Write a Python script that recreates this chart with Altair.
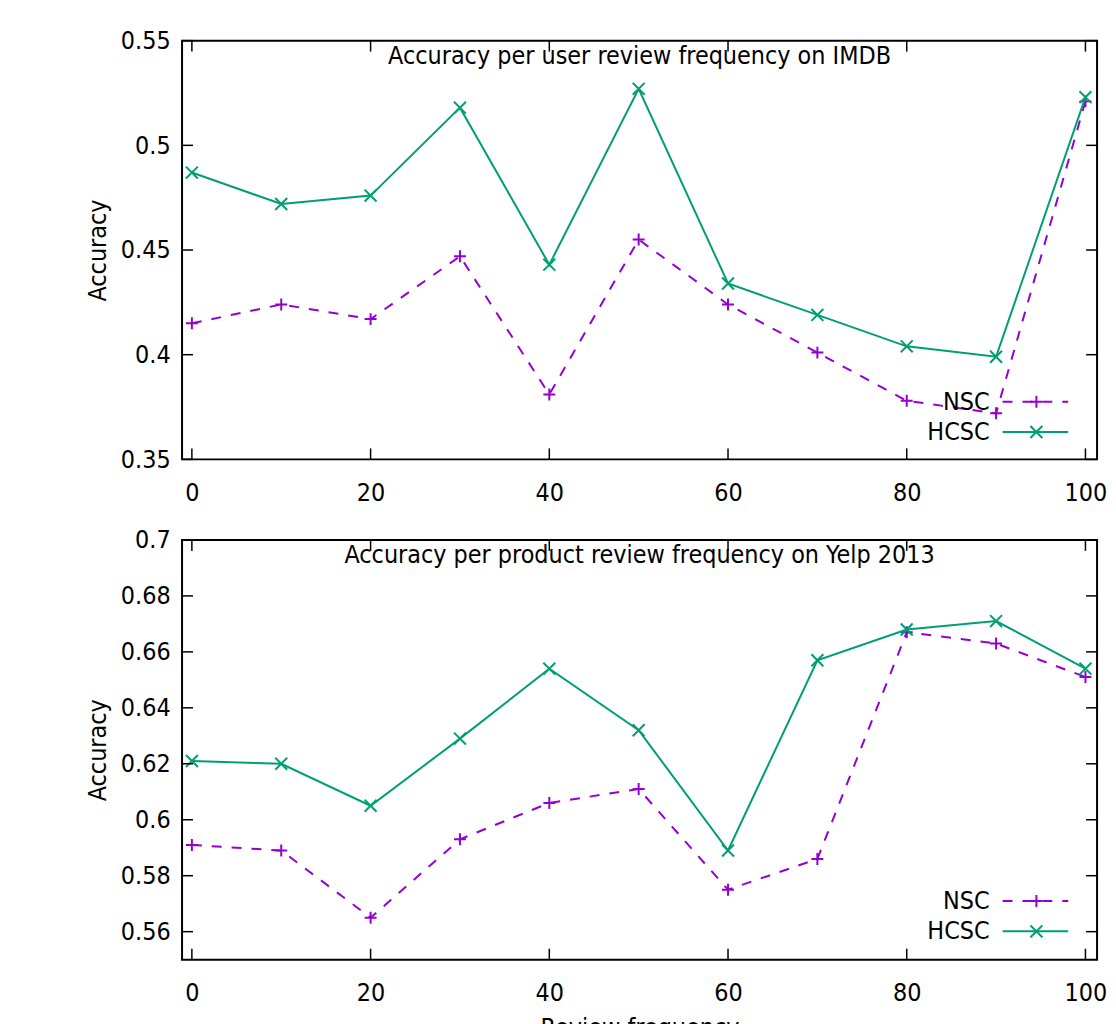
import altair as alt
import pandas as pd

# ---- data ----
review_freq = [0, 10, 20, 30, 40, 50, 60, 70, 80, 90, 100]
imdb_nsc = [0.415, 0.424, 0.417, 0.447, 0.381, 0.455, 0.424, 0.401, 0.378, 0.372, 0.521]
imdb_hcsc = [0.487, 0.472, 0.476, 0.518, 0.443, 0.527, 0.434, 0.419, 0.404, 0.399, 0.523]
yelp_nsc = [0.591, 0.589, 0.565, 0.593, 0.606, 0.611, 0.575, 0.586, 0.667, 0.663, 0.651]
yelp_hcsc = [0.621, 0.620, 0.605, 0.629, 0.654, 0.632, 0.589, 0.657, 0.668, 0.671, 0.654]
series_names = ["NSC", "HCSC"]
x_ticks = [0, 20, 40, 60, 80, 100]
imdb_y_ticks = [0.35, 0.4, 0.45, 0.5, 0.55]
yelp_y_ticks = [0.56, 0.58, 0.6, 0.62, 0.64, 0.66, 0.68, 0.7]
imdb_title = "Accuracy per user review frequency on IMDB"
yelp_title = "Accuracy per product review frequency on Yelp 2013"

W = 920
FONT = "DejaVu Sans Condensed, DejaVu Sans"
FS = 25
PURPLE = "#9400D3"
GREEN = "#009E73"
PLUS = "M-1,0L1,0M0,-1L0,1"
CROSS = "M-1,-1L1,1M-1,1L1,-1"
STYLES = {"NSC": (PURPLE, [10, 10], PLUS), "HCSC": (GREEN, None, CROSS)}
TICK = 11


def panel(title, nsc, hcsc, ydom, yticks, H, xtitle):
    xs = alt.Scale(domain=[-1.1, 101.3], nice=False, zero=False)
    ys = alt.Scale(domain=ydom, nice=False, zero=False)
    xaxis = alt.Axis(values=x_ticks, title=xtitle, labelPadding=21, titlePadding=10)
    yaxis = alt.Axis(values=yticks, format="~g", title="Accuracy",
                     labelPadding=12, titlePadding=10)
    layers = []
    for name, vals in zip(series_names, [nsc, hcsc]):
        df = pd.DataFrame({"freq": review_freq, "acc": vals})
        color, dash, shape = STYLES[name]
        xenc = alt.X("freq:Q", scale=xs, axis=xaxis)
        yenc = alt.Y("acc:Q", scale=ys, axis=yaxis)
        lkw = dict(color=color, strokeWidth=2)
        if dash:
            lkw["strokeDash"] = dash
        layers.append(alt.Chart(df).mark_line(**lkw).encode(x=xenc, y=yenc))
        layers.append(
            alt.Chart(df).mark_point(shape=shape, size=144, filled=False, color=color,
                                     strokeWidth=2, opacity=1)
            .encode(x=xenc, y=yenc)
        )

    # inward ticks on all four sides (gnuplot style)
    ydf = pd.DataFrame({"t": yticks})
    xdf = pd.DataFrame({"t": x_ticks})
    tick_kw = dict(color="black", strokeWidth=1.5)
    yt = alt.Y("t:Q", scale=ys, axis=yaxis)
    xt = alt.X("t:Q", scale=xs, axis=xaxis)
    layers.append(alt.Chart(ydf).mark_rule(**tick_kw).encode(
        y=yt, x=alt.value(0), x2=alt.value(TICK)))
    layers.append(alt.Chart(ydf).mark_rule(**tick_kw).encode(
        y=yt, x=alt.value(W - TICK), x2=alt.value(W)))
    layers.append(alt.Chart(xdf).mark_rule(**tick_kw).encode(
        x=xt, y=alt.value(H), y2=alt.value(H - TICK)))
    layers.append(alt.Chart(xdf).mark_rule(**tick_kw).encode(
        x=xt, y=alt.value(0), y2=alt.value(TICK)))

    # title inside the plot
    layers.append(alt.Chart(pd.DataFrame({"title": [title]})).mark_text(
        font=FONT, fontSize=FS, align="center", baseline="middle", color="black").encode(
        x=alt.value(W / 2), y=alt.value(15), text="title:N"))

    # gnuplot-style key at bottom right
    for i, name in enumerate(series_names):
        color, dash, shape = STYLES[name]
        ky = 363 + 30.5 * i
        ldf = pd.DataFrame({"label": [name]})
        layers.append(alt.Chart(ldf).mark_text(
            font=FONT, fontSize=FS, align="right", baseline="middle", color="black").encode(
            x=alt.value(812), y=alt.value(ky), text="label:N"))
        rkw = dict(color=color, strokeWidth=2)
        if dash:
            rkw["strokeDash"] = dash
        layers.append(alt.Chart(ldf).mark_rule(**rkw).encode(
            x=alt.value(825), x2=alt.value(891), y=alt.value(ky)))
        layers.append(alt.Chart(ldf).mark_point(
            shape=shape, size=144, filled=False, color=color, strokeWidth=2, opacity=1).encode(
            x=alt.value(859), y=alt.value(ky)))

    return alt.layer(*layers).properties(width=W, height=H)


top = panel(imdb_title, imdb_nsc, imdb_hcsc, [0.35, 0.55], imdb_y_ticks, 421, None)
bottom = panel(yelp_title, yelp_nsc, yelp_hcsc, [0.55, 0.7], yelp_y_ticks, 422, "Review frequency")

chart = alt.vconcat(top, bottom, spacing=21).properties(
    padding={"left": 76, "top": 17, "right": 0, "bottom": 5}
).configure_view(stroke="black", strokeWidth=2).configure_axis(
    labelFont=FONT, titleFont=FONT, labelFontSize=FS, titleFontSize=FS,
    titleFontWeight="normal", labelColor="black", titleColor="black",
    ticks=False, domain=False, grid=False
)

chart.save("out.html", embed_options={"renderer": "svg", "actions": False})
